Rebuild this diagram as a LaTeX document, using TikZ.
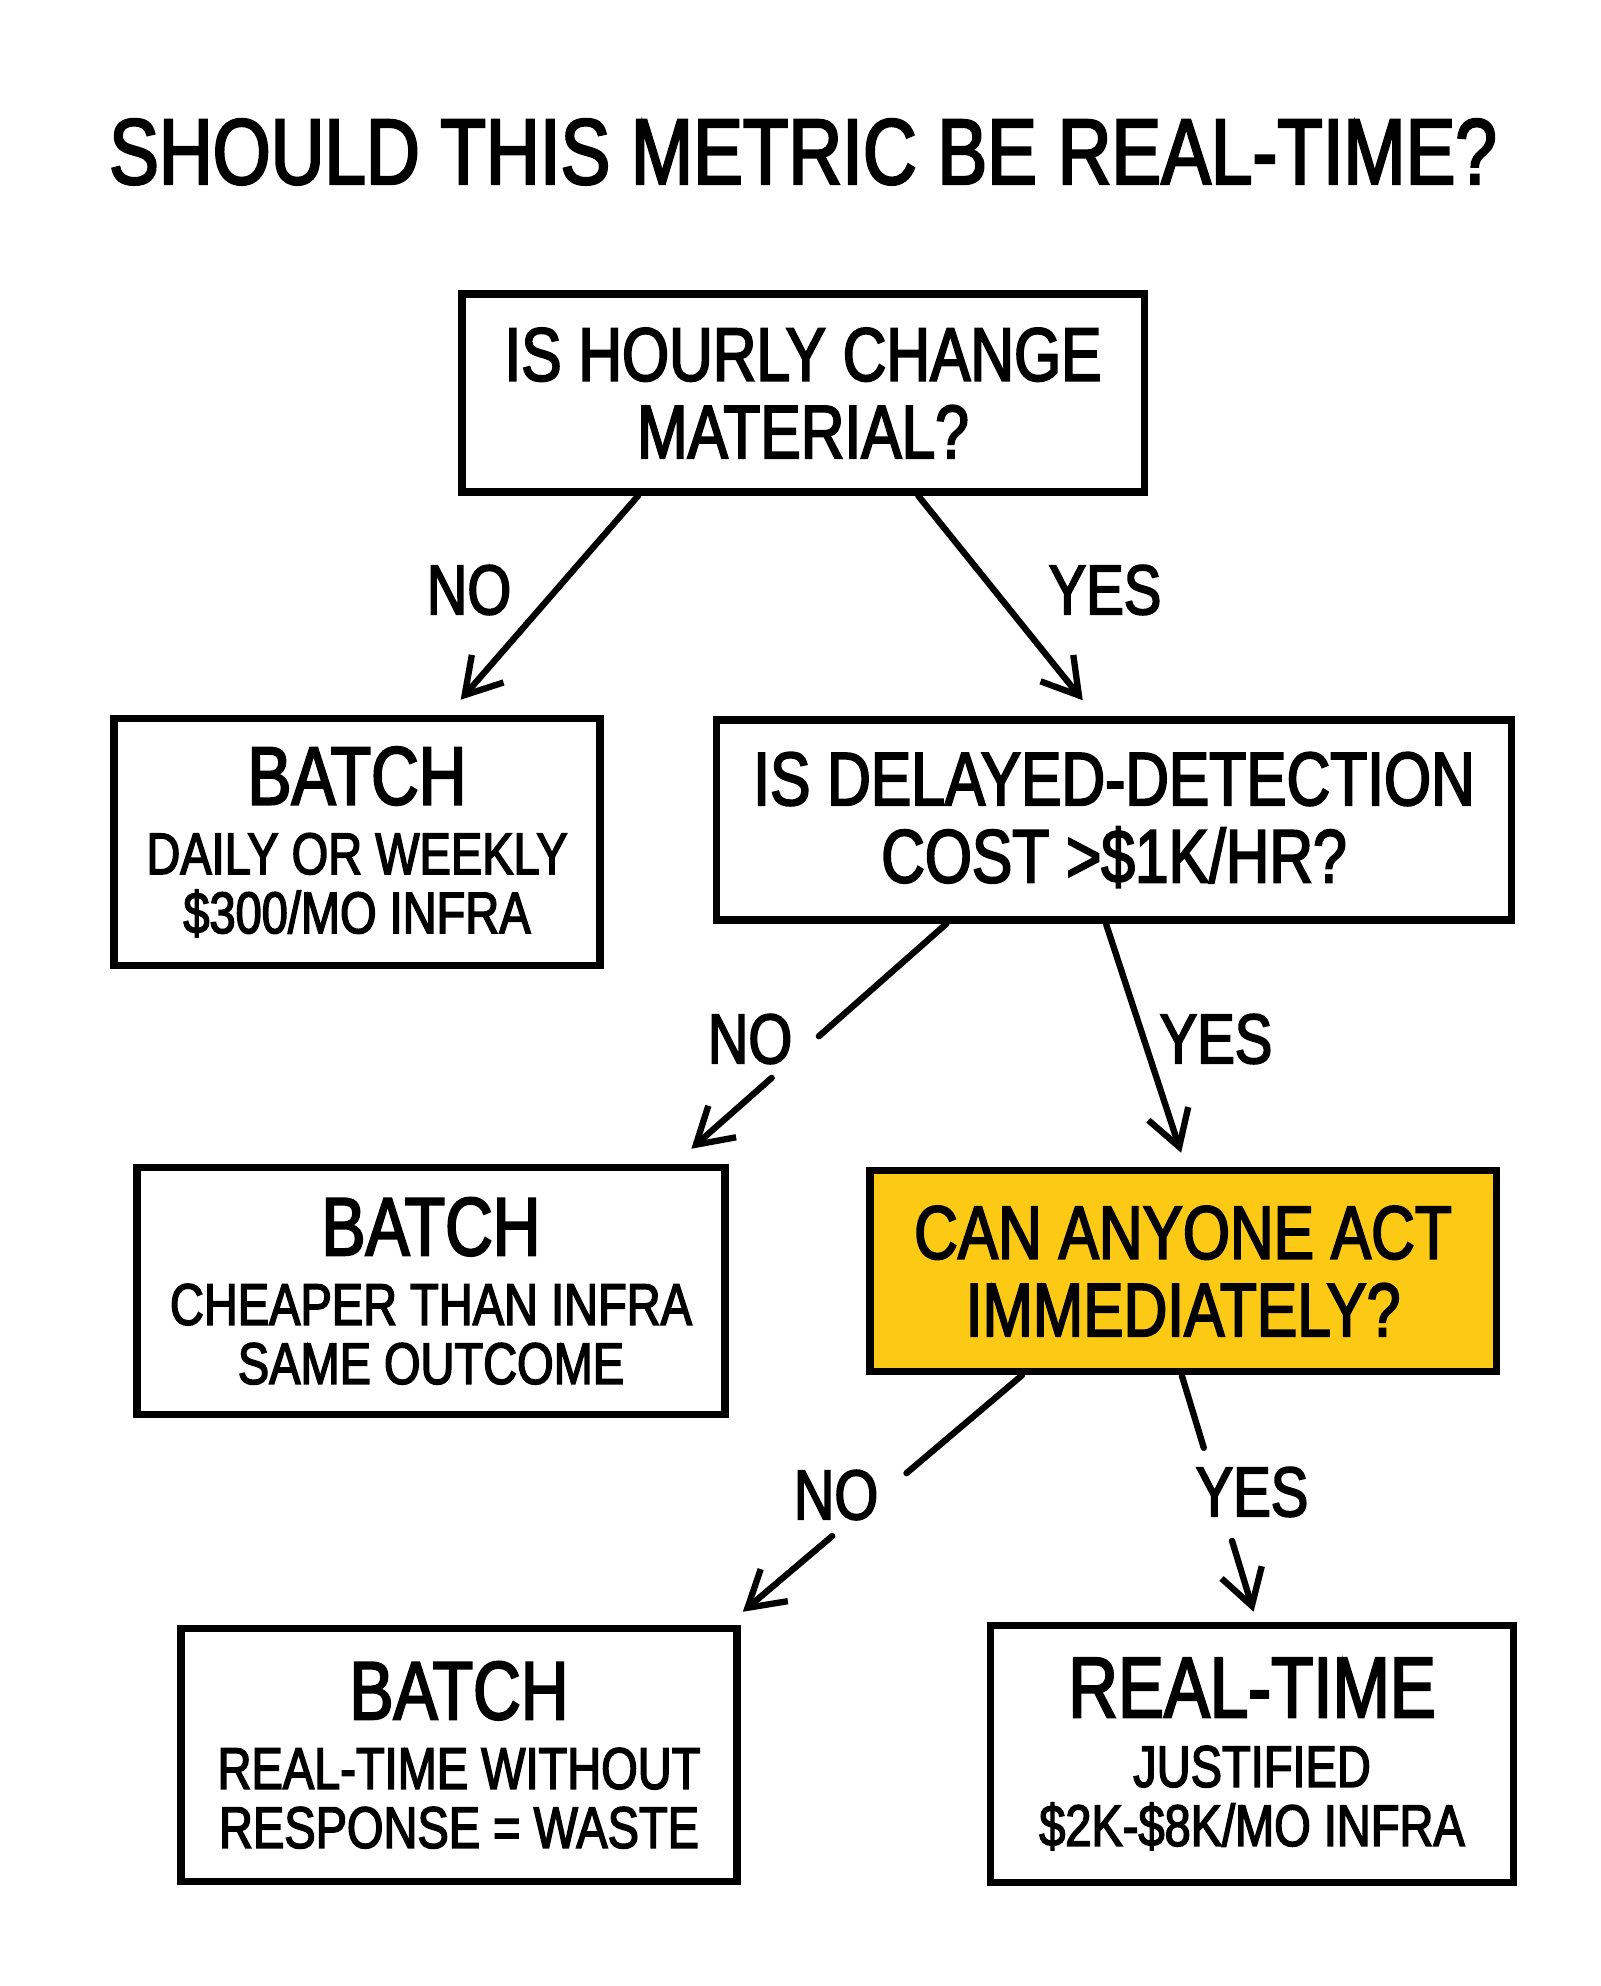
\documentclass[tikz,border=0pt]{standalone}
\usepackage{fontspec}
\setmainfont{Liberation Sans}[FakeStretch=0.8,FakeBold=2.5]
\usetikzlibrary{arrows.meta,calc}
\definecolor{hlyellow}{RGB}{252,202,20}
\newcommand{\ttlfnt}{\fontsize{26.5}{28}\selectfont}
\newcommand{\qfnt}{\fontsize{21.5}{22}\selectfont}
\newcommand{\headfnt}{\fontsize{23.5}{24}\selectfont}
\newcommand{\subfnt}{\fontsize{16.7}{16.8}\selectfont}
\newcommand{\lblfnt}{\fontsize{20}{22}\selectfont}
\begin{document}
\begin{tikzpicture}[x=0.01cm,y=-0.01cm,
  box/.style={draw=black, line width=2.1pt, fill=white, inner sep=0pt, align=center},
  qbox/.style={box, font=\qfnt},
  abox/.style={box, font=\subfnt},
  lbl/.style={font=\lblfnt, inner sep=0pt},
  conn/.style={line width=1.8pt, line cap=round, -{Straight Barb[length=3.5mm,width=4.2mm]}},
  seg/.style={line width=1.8pt, line cap=round}]
\useasboundingbox (0,0) rectangle (1600,1986);
\fill[white] (0,0) rectangle (1600,1986);

\node[font=\ttlfnt, anchor=base] (title) at (803,184) {SHOULD THIS METRIC BE REAL-TIME?};

\node[qbox, minimum width=6.82cm, minimum height=1.98cm] (q1) at (803,393) {IS HOURLY CHANGE\\MATERIAL?};
\node[abox, minimum width=4.86cm, minimum height=2.47cm] (b1) at (357,842) {{\headfnt BATCH}\\[3pt]DAILY OR WEEKLY\\\$300/MO INFRA};
\node[qbox, minimum width=7.94cm, minimum height=2.0cm] (q2) at (1114,820) {IS DELAYED-DETECTION\\COST >\$1K/HR?};
\node[abox, minimum width=5.88cm, minimum height=2.47cm] (b2) at (431,1291) {{\headfnt BATCH}\\[3pt]CHEAPER THAN INFRA\\SAME OUTCOME};
\node[qbox, fill=hlyellow, minimum width=6.26cm, minimum height=2.01cm] (q3) at (1183,1271) {CAN ANYONE ACT\\IMMEDIATELY?};
\node[abox, minimum width=5.56cm, minimum height=2.53cm] (b3) at (459,1755) {{\headfnt BATCH}\\[3pt]REAL-TIME WITHOUT\\RESPONSE = WASTE};
\node[abox, minimum width=5.23cm, minimum height=2.57cm] (rt) at (1252,1754) {{\fontsize{24.5}{25}\selectfont REAL-TIME}\\[3pt]JUSTIFIED\\\$2K-\$8K/MO INFRA};

\node[lbl] (no1) at (469,590) {NO};
\node[lbl] (yes1) at (1105,590) {YES};
\node[lbl] (no2) at (750,1039) {NO};
\node[lbl] (yes2) at (1216,1039) {YES};
\node[lbl] (no3) at (836,1495) {NO};
\node[lbl] (yes3) at (1252,1492) {YES};

\coordinate (s1) at ($(q1.south west)!0.261!(q1.south east)$);
\coordinate (e1) at ($(b1.north west)!0.71!(b1.north east)+(0,-15)$);
\draw[conn] (s1) -- (e1);

\coordinate (s2) at ($(q1.south west)!0.667!(q1.south east)$);
\coordinate (e2) at ($(q2.north west)!0.461!(q2.north east)+(0,-16)$);
\draw[conn] (s2) -- (e2);

\coordinate (s3) at ($(q2.south west)!0.291!(q2.south east)$);
\coordinate (e3) at ($(b2.north west)!0.937!(b2.north east)+(0,-15)$);
\coordinate (g3a) at ($(s3)!0.50!(e3)$);
\coordinate (g3b) at ($(s3)!0.685!(e3)$);
\draw[seg] (s3) -- (g3a);
\draw[conn] (g3b) -- (e3);

\coordinate (s4) at ($(q2.south west)!0.49!(q2.south east)$);
\coordinate (e4) at ($(q3.north west)!0.497!(q3.north east)+(0,-14)$);
\draw[conn] (s4) -- (e4);

\coordinate (s5) at ($(q3.south west)!0.246!(q3.south east)$);
\coordinate (e5) at ($(b3.north east)+(2,-13)$);
\coordinate (g5a) at ($(s5)!0.414!(e5)$);
\coordinate (g5b) at ($(s5)!0.68!(e5)$);
\draw[seg] (s5) -- (g5a);
\draw[conn] (g5b) -- (e5);

\coordinate (s6) at ($(q3.south west)!0.498!(q3.south east)$);
\coordinate (e6) at ($(rt.north west)!0.503!(rt.north east)+(0,-10)$);
\coordinate (g6a) at ($(s6)!0.307!(e6)$);
\coordinate (g6b) at ($(s6)!0.70!(e6)$);
\draw[seg] (s6) -- (g6a);
\draw[conn] (g6b) -- (e6);
\end{tikzpicture}
\end{document}
